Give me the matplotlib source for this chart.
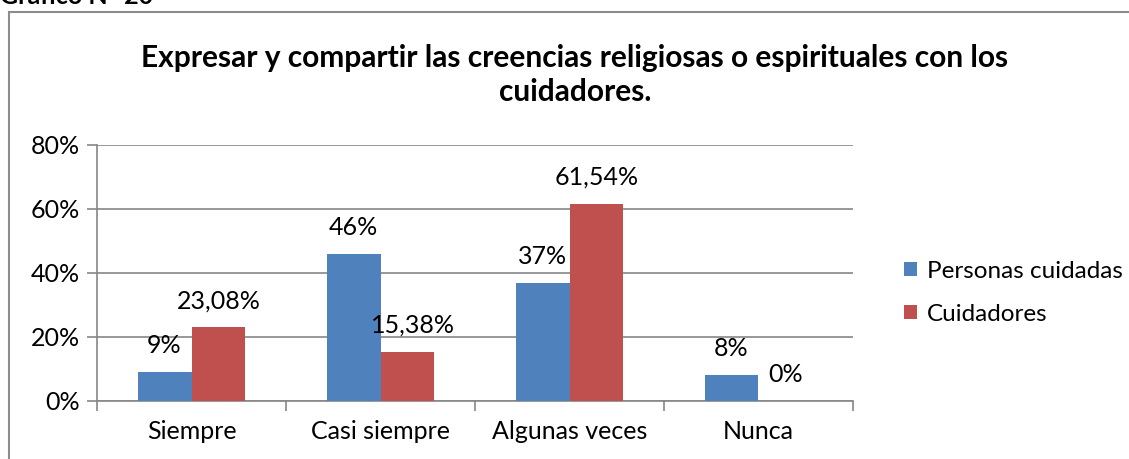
import matplotlib.pyplot as plt
import numpy as np
from matplotlib.patches import Rectangle

categories = ["Siempre", "Casi siempre", "Algunas veces", "Nunca"]
personas_cuidadas = [9, 46, 37, 8]
cuidadores = [23.08, 15.38, 61.54, 0]
personas_labels = ["9%", "46%", "37%", "8%"]
cuidadores_labels = ["23,08%", "15,38%", "61,54%", "0%"]
series_names = ["Personas cuidadas", "Cuidadores"]
y_ticks = [0, 20, 40, 60, 80]

BLUE = "#4F81BD"
RED = "#C0504D"
GRID = "#868686"

plt.rcParams["font.family"] = ["Lato", "DejaVu Sans"]

W, H = 1129, 459
fig = plt.figure(figsize=(W / 100, H / 100), dpi=100)

# outer chart frame (right/bottom edges run past the picture)
fig.patches.append(Rectangle((8.5 / W, -0.1), 1.2, 1 - 12.5 / H + 0.1,
                             transform=fig.transFigure, fill=False,
                             edgecolor="#8C8C8C", linewidth=1.5))

# caption above the frame, mostly outside the picture as in the source
fig.text(0, 1 - 4 / H, "Gráfico N° 20", fontsize=18, fontweight="bold",
         ha="left", va="baseline")

fig.text(575 / W, 1 - 75 / H,
         "Expresar y compartir las creencias religiosas o espirituales con los\ncuidadores.",
         fontsize=21.5, fontweight="bold", ha="center", va="center",
         linespacing=1.3)

ax = fig.add_axes([97 / W, 58 / H, 756 / W, 256 / H])

x = np.arange(len(categories))
width = 0.2857
ax.bar(x - width / 2, personas_cuidadas, width, color=BLUE, label=series_names[0], zorder=3)
ax.bar(x + width / 2, cuidadores, width, color=RED, label=series_names[1], zorder=3)

for i, (v, lab) in enumerate(zip(personas_cuidadas, personas_labels)):
    ax.text(x[i] - width / 2, v + 8.3, lab, ha="center",
            va="center", fontsize=18)
offsets_c = [0, 0.03, 0, 0]
for i, (v, lab) in enumerate(zip(cuidadores, cuidadores_labels)):
    ax.text(x[i] + width / 2 + offsets_c[i], v + 8.3, lab, ha="center",
            va="center", fontsize=18)

ax.set_xlim(-0.5, len(categories) - 0.5)
ax.set_ylim(0, 80)
ax.set_yticks(y_ticks)
ax.set_yticklabels([f"{t}%" for t in y_ticks], fontsize=18)
ax.yaxis.grid(True, color=GRID, linewidth=1.2, zorder=0)

ax.set_xticks(x)
ax.set_xticklabels(categories, fontsize=18)
ax.set_xticks(np.arange(len(categories) + 1) - 0.5, minor=True)
ax.tick_params(axis="x", which="major", length=0, pad=14)
ax.tick_params(axis="x", which="minor", length=7, color=GRID, width=1.2)
ax.tick_params(axis="y", length=7, color=GRID, width=1.2, pad=5)

for side in ["top", "right"]:
    ax.spines[side].set_visible(False)
for side in ["left", "bottom"]:
    ax.spines[side].set_color(GRID)
    ax.spines[side].set_linewidth(1.2)

fig.legend(loc="upper left", bbox_to_anchor=(894 / W, 1 - 251 / H),
           frameon=False, fontsize=17.5, handlelength=0.55, handleheight=0.55,
           handletextpad=0.4, labelspacing=0.9, borderaxespad=0)

fig.savefig("out.png", dpi=100)
